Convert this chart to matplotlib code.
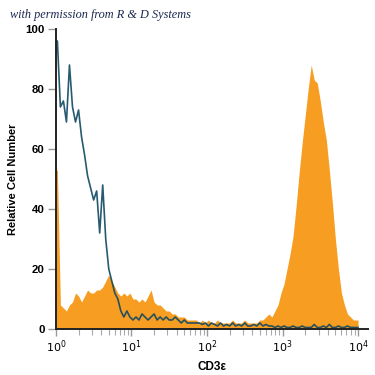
import numpy as np
import matplotlib
matplotlib.use("Agg")
import matplotlib.pyplot as plt
from matplotlib.ticker import LogLocator, LogFormatterMathtext, NullFormatter

# histogram channels: 100 bins, 0.04 decade each, from 10^0 to 10^4
bin_edges = np.logspace(0, 4, 101)

# isotype control (blue line)
isotype = [96, 74, 76, 69, 88, 74, 69, 73, 64, 58,
           51, 47, 43, 46, 32, 48, 30, 20, 16, 12,
           10, 6, 4, 6, 4, 3, 4, 3, 5, 4,
           3, 4, 5, 3, 4, 3, 4, 3, 3, 4,
           3, 2, 3, 2, 2, 2, 2, 2, 1.5, 2,
           1, 2, 1.5, 1, 2, 1, 1.5, 1, 2, 1,
           1.5, 1, 2, 1, 1, 1.5, 1, 2, 1, 1.5,
           1, 1, 0.5, 1, 0.5, 1, 0.5, 0.5, 1, 0.5,
           0.5, 1, 0.5, 0.5, 0.5, 1.5, 0.5, 0.5, 1, 0.5,
           1.5, 0.5, 0.5, 1, 0.5, 0.5, 1, 0.5, 0.5, 0.5]

# anti-CD3e stained cells (orange filled)
cd3e = [53, 8, 7, 6, 8, 9, 12, 11, 9, 11,
        13, 12, 12, 13, 13, 14, 16, 18, 16, 14,
        12, 11, 12, 11, 12, 10, 10, 9, 10, 9,
        11, 13, 9, 8, 8, 7, 6, 6, 5, 5,
        4, 4, 4, 3, 3, 3, 3, 2, 3, 2,
        3, 2, 2, 3, 2, 2, 2, 2, 3, 2,
        2, 2, 3, 2, 2, 2, 2, 3, 3, 4,
        5, 4, 6, 8, 12, 15, 20, 25, 31, 41,
        52, 62, 71, 80, 88, 83, 82, 76, 69, 63,
        53, 42, 30, 20, 12, 8, 5, 4, 3, 3]

y_ticks = [0, 20, 40, 60, 80, 100]

# polyline through channel centres, starting at the left edge of channel 0
centres = np.sqrt(bin_edges[:-1] * bin_edges[1:])
xs = np.r_[bin_edges[0], centres, bin_edges[-1]]
iso_y = np.r_[isotype[0], isotype, isotype[-1]]
cd_y = np.r_[cd3e[0], cd3e, cd3e[-1]]

fig = plt.figure(figsize=(3.75, 3.75), dpi=100)
ax = fig.add_axes([0.149, 0.1227, 0.832, 0.8])

# Plots
ax.fill_between(xs, 0, cd_y, color="#f69d22", linewidth=0)
ax.plot(xs, iso_y, color="#0f4862", linewidth=1.2, alpha=0.9)

# Style
ax.set_xscale("log")
ax.set_xlim(1, 10 ** 4.13)
ax.set_ylim(0, 100)
for side in ["top", "right"]:
    ax.spines[side].set_visible(False)
for side in ["left", "bottom"]:
    ax.spines[side].set_linewidth(1.4)
    ax.spines[side].set_color("#222222")

ax.xaxis.set_major_formatter(LogFormatterMathtext())
ax.xaxis.set_minor_locator(LogLocator(base=10, subs=np.arange(2, 10), numticks=20))
ax.xaxis.set_minor_formatter(NullFormatter())
ax.set_xticks([1, 10, 100, 1000, 10000])
ax.set_yticks(y_ticks)
ax.tick_params(axis="x", which="major", length=5, width=1, color="#999999",
               labelsize=8, pad=2)
ax.tick_params(axis="x", which="minor", length=4, width=0.8, color="#aaaaaa")
ax.tick_params(axis="y", length=6, width=1, color="#999999", labelsize=8.2, pad=2)
for lab in ax.get_yticklabels():
    lab.set_fontfamily("Liberation Sans")
    lab.set_fontweight("bold")

ax.set_xlabel("CD3ε", fontsize=8.5, fontweight="bold", family="Liberation Sans", labelpad=4)
ax.set_ylabel("Relative Cell Number", fontsize=8, fontweight="bold",
              family="Liberation Sans", labelpad=5)

fig.text(0.027, 0.952, "with permission from R & D Systems", fontsize=8.8,
         style="italic", family="Liberation Serif", color="#1a2850")

fig.savefig("out.png", dpi=100)
